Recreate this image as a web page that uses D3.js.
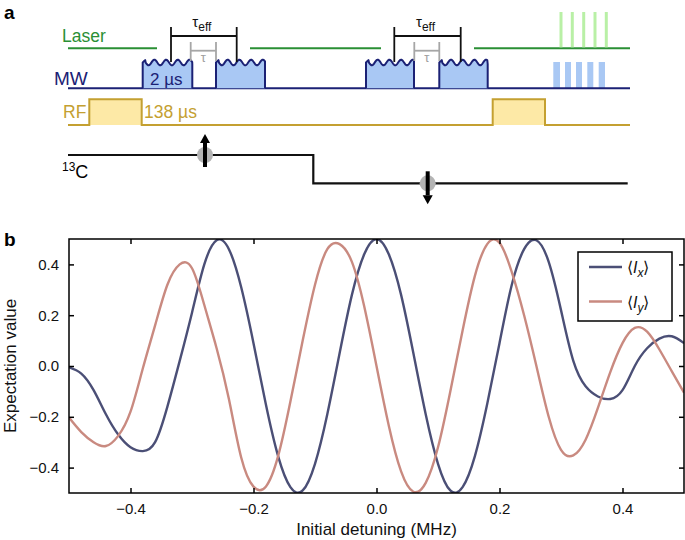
<!DOCTYPE html>
<html>
<head>
<meta charset="utf-8">
<script src="https://cdn.jsdelivr.net/npm/d3@7"></script>
<style>
  body { margin: 0; background: #fff; }
  svg { display: block; font-family: "Liberation Sans", Arial, Helvetica, sans-serif; }
</style>
</head>
<body>
<div id="canvas"></div>
<script>
// ---- panel b data ----
const detuning = [-0.50, -0.48, -0.46, -0.44, -0.42, -0.40, -0.38, -0.36, -0.34, -0.32,
  -0.30, -0.28, -0.26, -0.24, -0.22, -0.20, -0.18, -0.16, -0.14, -0.12,
  -0.10, -0.08, -0.06, -0.04, -0.02, 0.00, 0.02, 0.04, 0.06, 0.08,
  0.10, 0.12, 0.14, 0.16, 0.18, 0.20, 0.22, 0.24, 0.26, 0.28,
  0.30, 0.32, 0.34, 0.36, 0.38, 0.40, 0.42, 0.44, 0.46, 0.48, 0.50];
const valuesIx = [-0.005, -0.03, -0.095, -0.19, -0.27, -0.32, -0.335, -0.30, -0.16, 0.02,
  0.21, 0.40, 0.495, 0.46, 0.31, 0.09, -0.15, -0.355, -0.477, -0.49,
  -0.385, -0.19, 0.05, 0.28, 0.44, 0.50, 0.44, 0.28, 0.05, -0.19,
  -0.385, -0.49, -0.477, -0.355, -0.15, 0.09, 0.32, 0.46, 0.495, 0.41,
  0.22, 0.02, -0.08, -0.12, -0.13, -0.095, 0.0, 0.07, 0.108, 0.117, 0.09];
const valuesIy = [-0.203, -0.26, -0.30, -0.315, -0.275, -0.18, -0.01, 0.16, 0.32, 0.40,
  0.385, 0.24, 0.07, -0.13, -0.36, -0.475, -0.475, -0.355, -0.14, 0.10,
  0.32, 0.46, 0.48, 0.41, 0.235, 0.0, -0.235, -0.415, -0.495, -0.46,
  -0.32, -0.10, 0.14, 0.355, 0.48, 0.485, 0.37, 0.20, 0.0, -0.20,
  -0.33, -0.352, -0.29, -0.165, -0.025, 0.09, 0.15, 0.135, 0.065, -0.02, -0.105];
const xTicks = [-0.4, -0.2, 0.0, 0.2, 0.4];
const yTicks = [-0.4, -0.2, 0.0, 0.2, 0.4];
const seriesSub = ["x", "y"];
const seriesColor = ["#4b4f76", "#c98a80"];

// ---- panel a sequence (timeline units) ----
const laserSegs = [[0, 89], [182, 313], [406, 562]];
const laserShots = [493, 504.3, 515.7, 527, 538.3];
const mwPulses = [[74.7, 124.3], [148, 197], [298, 346], [371.3, 419.7]];
const mwShots = [[485.3, 492], [497, 503], [508, 514], [519.3, 525.3], [530.7, 537]];
const rfPulses = [[21.3, 73.7], [424.7, 477]];
const tauEff = [[103, 168.7], [326.3, 392.7]];
const tauGap = [[122.7, 148], [346.3, 371.3]];
const spinFlip = 245.3;
const spinMarks = [[137, "up"], [359.7, "down"]];

const W = 685, H = 540;
const svg = d3.select("#canvas").append("svg")
  .attr("width", W).attr("height", H);

// ================= panel a =================
const t = d3.scaleLinear().domain([0, 562]).range([68, 630]);
const row = { laser: 48.3, mw: 88.3, mwTop: 62, rf: 125, rfTop: 99.3, c: 155, cLow: 183.3 };
const green = "#2a8f34", navy = "#1b2175", gold = "#c4a031";

svg.append("text").attr("x", 4).attr("y", 19)
  .style("font-size", "19px").style("font-weight", "bold").text("a");

// laser
svg.append("text").attr("x", 62).attr("y", 42).style("font-size", "17.5px")
  .style("fill", green).text("Laser");
svg.selectAll(".laser-seg").data(laserSegs).join("line")
  .attr("x1", d => t(d[0])).attr("x2", d => t(d[1]))
  .attr("y1", row.laser).attr("y2", row.laser)
  .attr("stroke", green).attr("stroke-width", 2);
svg.selectAll(".laser-shot").data(laserShots).join("line")
  .attr("x1", d => t(d)).attr("x2", d => t(d))
  .attr("y1", 12).attr("y2", row.laser - 1)
  .attr("stroke", "#b9f0a6").attr("stroke-width", 3);

// MW
svg.append("text").attr("x", 54).attr("y", 85).style("font-size", "19px")
  .style("fill", navy).text("MW");
svg.selectAll(".mw-shot").data(mwShots).join("rect")
  .attr("x", d => t(d[0])).attr("width", d => t(d[1]) - t(d[0]))
  .attr("y", row.mwTop).attr("height", row.mw - row.mwTop)
  .attr("fill", "#a9c8f4");
svg.append("line").attr("x1", t(0)).attr("x2", t(562))
  .attr("y1", row.mw).attr("y2", row.mw)
  .attr("stroke", navy).attr("stroke-width", 2);

const wavy = d3.line().curve(d3.curveLinear);
function pulsePath(d) {
  const x0 = t(d[0]), x1 = t(d[1]);
  const pts = [[x0, row.mw], [x0, row.mwTop + 2]];
  for (let x = x0; x <= x1; x += 0.5) {
    const r = x - x0;
    let y = row.mwTop + 0.5 - 2.8 * Math.cos(2 * Math.PI * r / 11.7);
    if (r < 3) y = row.mwTop - 2.3 + (3 - r) * 0.9;
    pts.push([x, y]);
  }
  pts.push([x1, row.mwTop + 2], [x1, row.mw]);
  return wavy(pts);
}
svg.selectAll(".mw-pulse").data(mwPulses).join("path")
  .attr("d", pulsePath)
  .attr("fill", "#a9c8f4").attr("stroke", navy).attr("stroke-width", 2)
  .attr("stroke-linejoin", "round");
svg.append("text").attr("x", 150).attr("y", 85).style("font-size", "17px")
  .style("fill", navy).text("2 \u00b5s");

// tau_eff and tau brackets
tauEff.forEach(d => {
  const g = svg.append("g").attr("stroke", "#111").attr("stroke-width", 1.8);
  g.append("line").attr("x1", t(d[0])).attr("x2", t(d[0])).attr("y1", 27).attr("y2", 62);
  g.append("line").attr("x1", t(d[1])).attr("x2", t(d[1])).attr("y1", 27).attr("y2", 62);
  g.append("line").attr("x1", t(d[0])).attr("x2", t(d[1])).attr("y1", 36).attr("y2", 36);
  const tx = svg.append("text").attr("x", (t(d[0]) + t(d[1])) / 2 - 2).attr("y", 27)
    .attr("text-anchor", "middle").style("font-size", "15px").style("fill", "#111");
  tx.append("tspan").text("\u03c4");
  tx.append("tspan").attr("dy", 4).style("font-size", "12px").text("eff");
});
tauGap.forEach(d => {
  const g = svg.append("g").attr("stroke", "#a6a6a6").attr("stroke-width", 1.8);
  g.append("line").attr("x1", t(d[0])).attr("x2", t(d[0])).attr("y1", 42).attr("y2", 61);
  g.append("line").attr("x1", t(d[1])).attr("x2", t(d[1])).attr("y1", 42).attr("y2", 61);
  g.append("line").attr("x1", t(d[0])).attr("x2", t(d[1])).attr("y1", 50.7).attr("y2", 50.7);
  svg.append("text").attr("x", (t(d[0]) + t(d[1])) / 2).attr("y", 62)
    .attr("text-anchor", "middle").style("font-size", "13px").style("fill", "#a0a0a0")
    .text("\u03c4");
});

// RF
svg.append("text").attr("x", 63).attr("y", 118).style("font-size", "17.5px")
  .style("fill", gold).text("RF");
const rfPts = [[t(0), row.rf]];
rfPulses.forEach(d => {
  rfPts.push([t(d[0]), row.rf], [t(d[0]), row.rfTop], [t(d[1]), row.rfTop], [t(d[1]), row.rf]);
});
rfPts.push([t(562), row.rf]);
svg.selectAll(".rf-fill").data(rfPulses).join("rect")
  .attr("x", d => t(d[0])).attr("width", d => t(d[1]) - t(d[0]))
  .attr("y", row.rfTop).attr("height", row.rf - row.rfTop)
  .attr("fill", "#fde9a6");
svg.append("path").attr("d", d3.line()(rfPts))
  .attr("fill", "none").attr("stroke", gold).attr("stroke-width", 2);
svg.append("text").attr("x", 144).attr("y", 118).style("font-size", "17.5px")
  .style("fill", gold).text("138 \u00b5s");

// 13C
const c13 = svg.append("text").attr("x", 62).attr("y", 178).style("font-size", "18px");
c13.append("tspan").attr("dy", -7).style("font-size", "12px").text("13");
c13.append("tspan").attr("dy", 7).text("C");
svg.append("path")
  .attr("d", d3.line()([[t(0), row.c], [t(spinFlip), row.c], [t(spinFlip), row.cLow], [t(559.7), row.cLow]]))
  .attr("fill", "none").attr("stroke", "#111").attr("stroke-width", 2.2);
spinMarks.forEach(([pos, dir]) => {
  const cx = t(pos), cy = dir === "up" ? row.c : row.cLow;
  svg.append("ellipse").attr("cx", cx).attr("cy", cy).attr("rx", 8).attr("ry", 8)
    .attr("fill", "#b4b4b4");
  const tip = dir === "up" ? cy - 21 : cy + 21;
  const tail = dir === "up" ? cy + 12 : cy - 12;
  const head = dir === "up" ? tip + 9 : tip - 9;
  svg.append("line").attr("x1", cx).attr("x2", cx).attr("y1", tail).attr("y2", head)
    .attr("stroke", "#000").attr("stroke-width", 4);
  svg.append("path")
    .attr("d", d3.line()([[cx - 5, head], [cx + 5, head], [cx, tip]]) + "Z")
    .attr("fill", "#000");
});

// ================= panel b =================
const margin = { left: 69, right: 684, top: 239, bottom: 493 };
const x = d3.scaleLinear().domain([-0.5, 0.5]).range([margin.left, margin.right]);
const y = d3.scaleLinear().domain([-0.5, 0.5]).range([margin.bottom, margin.top]);

svg.append("text").attr("x", 4).attr("y", 246)
  .style("font-size", "19px").style("font-weight", "bold").text("b");

svg.append("defs").append("clipPath").attr("id", "plot-clip")
  .append("rect").attr("x", margin.left).attr("y", margin.top)
  .attr("width", margin.right - margin.left).attr("height", margin.bottom - margin.top);

const line = d3.line().x(d => x(d[0])).y(d => y(d[1])).curve(d3.curveNatural);
const series = [valuesIx, valuesIy];
svg.append("g").attr("clip-path", "url(#plot-clip)")
  .selectAll(".curve").data(series).join("path")
  .attr("class", "curve")
  .attr("d", vals => line(detuning.map((d, i) => [d, vals[i]])))
  .attr("fill", "none")
  .attr("stroke", (d, i) => seriesColor[i])
  .attr("stroke-width", 2.4);

// axes with inward ticks on all four sides
const fmt = d3.format(".1f");
const axB = svg.append("g").attr("transform", `translate(0,${margin.bottom})`)
  .call(d3.axisBottom(x).tickValues(xTicks).tickSize(-5).tickPadding(10).tickFormat(fmt));
const axT = svg.append("g").attr("transform", `translate(0,${margin.top})`)
  .call(d3.axisTop(x).tickValues(xTicks).tickSize(-5).tickFormat(""));
const axL = svg.append("g").attr("transform", `translate(${margin.left},0)`)
  .call(d3.axisLeft(y).tickValues(yTicks).tickSize(-5).tickPadding(10).tickFormat(fmt));
const axR = svg.append("g").attr("transform", `translate(${margin.right},0)`)
  .call(d3.axisRight(y).tickValues(yTicks).tickSize(-5).tickFormat(""));
[axB, axT, axL, axR].forEach(a => {
  a.select(".domain").remove();
  a.selectAll(".tick line").attr("stroke", "#000").attr("stroke-width", 1.5);
  a.selectAll(".tick text").style("font-size", "15px").style("fill", "#111")
    .style("font-family", "\"Liberation Sans\", Arial, sans-serif");
});
svg.append("rect").attr("x", margin.left).attr("y", margin.top)
  .attr("width", margin.right - margin.left).attr("height", margin.bottom - margin.top)
  .attr("fill", "none").attr("stroke", "#000").attr("stroke-width", 1.5);

svg.append("text").attr("x", (margin.left + margin.right) / 2).attr("y", 535)
  .attr("text-anchor", "middle").style("font-size", "17px").style("fill", "#111")
  .text("Initial detuning (MHz)");
svg.append("text").attr("transform", `translate(16,${(margin.top + margin.bottom) / 2}) rotate(-90)`)
  .attr("text-anchor", "middle").style("font-size", "17px").style("fill", "#111")
  .text("Expectation value");

// legend
const lg = svg.append("g").attr("transform", "translate(578,252)");
lg.append("rect").attr("width", 94).attr("height", 69)
  .attr("fill", "#fff").attr("stroke", "#000").attr("stroke-width", 1.5);
seriesSub.forEach((s, i) => {
  const ly = 15 + i * 34.5;
  lg.append("line").attr("x1", 11).attr("x2", 44).attr("y1", ly).attr("y2", ly)
    .attr("stroke", seriesColor[i]).attr("stroke-width", 2.4);
  const tx = lg.append("text").attr("x", 49).attr("y", ly + 6)
    .style("font-size", "16px").style("fill", "#111");
  tx.append("tspan").text("\u27e8");
  tx.append("tspan").style("font-style", "italic").text("I");
  tx.append("tspan").attr("dy", 4).style("font-size", "12px").style("font-style", "italic").text(s);
  tx.append("tspan").attr("dy", -4).text("\u27e9");
});
</script>
</body>
</html>
